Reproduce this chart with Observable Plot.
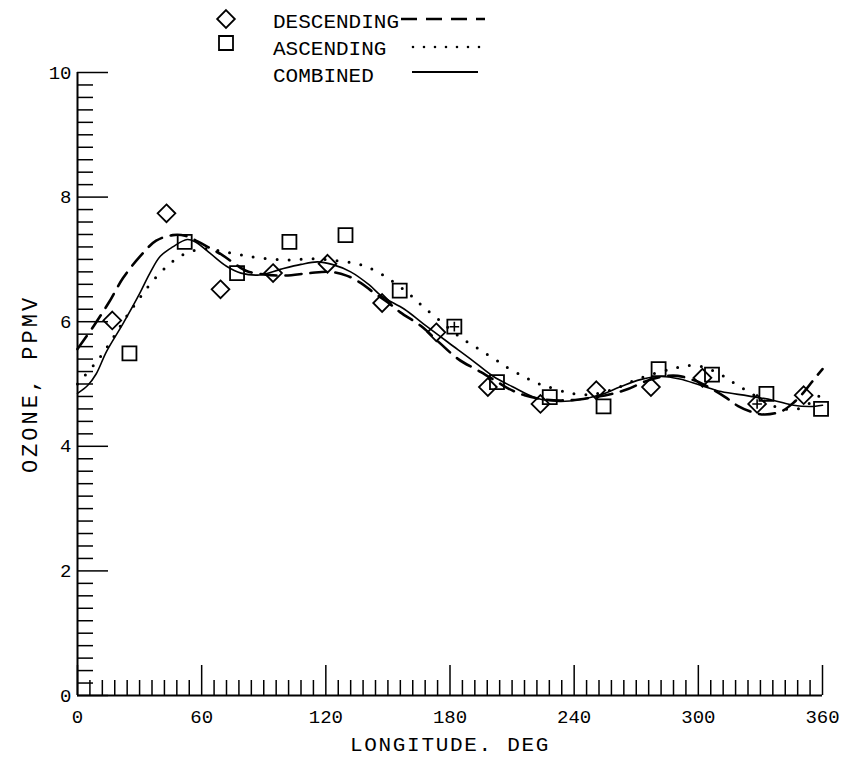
<!DOCTYPE html>
<html><head><meta charset="utf-8">
<script src="https://cdn.jsdelivr.net/npm/d3@7"></script>
<script src="https://cdn.jsdelivr.net/npm/@observablehq/plot@0.6"></script>
<style>
body{margin:0;background:#fff;}
#wrap{position:relative;width:841px;height:758px;}
#legend{position:absolute;left:0;top:0;}
</style></head><body><div id="wrap"><div id="chart"></div><svg id="legend" width="841" height="90"></svg></div>
<script>
// Measured points
const descLon   = [16.8, 43.0, 69.1, 94.5, 120.8, 147.2, 173.4, 198.3, 223.7, 250.7, 277.1, 302.0, 328.4, 350.9];
const descOzone = [6.02, 7.74, 6.52, 6.78, 6.93, 6.30, 5.83, 4.95, 4.68, 4.90, 4.95, 5.10, 4.68, 4.82];
const ascLon    = [25.1, 51.8, 77.1, 102.4, 129.5, 155.7, 182.1, 202.7, 228.2, 254.2, 280.8, 306.6, 332.9, 359.3];
const ascOzone  = [5.49, 7.28, 6.78, 7.28, 7.39, 6.50, 5.92, 5.03, 4.79, 4.64, 5.24, 5.15, 4.84, 4.60];
const plusLon   = [182.1, 328.4];
const plusOzone = [5.92, 4.68];
// Fitted curves
const descFitLon   = [0,8,15,22,30,38,46,52,58,64,70,76,82,90,100,112,122,130,137,143,150,156,166,175,184,195,203,208,216,226,238,250,258,266,275,283,290,298,306,313,319,326,332,340,346,351,356,360];
const descFitOzone = [5.56,5.94,6.30,6.70,7.04,7.30,7.39,7.38,7.29,7.18,7.07,6.93,6.81,6.76,6.74,6.78,6.80,6.74,6.62,6.47,6.31,6.15,5.93,5.66,5.40,5.19,5.03,4.93,4.82,4.75,4.74,4.79,4.84,4.92,5.05,5.12,5.13,5.06,4.93,4.79,4.65,4.55,4.51,4.56,4.70,4.87,5.08,5.24];
const ascFitLon    = [0,7,12,17,23,29,35,41,45,50,56,62,70,79,89,101,113,125,135,140,146,150,160,167,175,185,194,202,206,211,216,220,226,236,243,250,260,270,280,287,292,297,303,308,313,317,322,330,337,344,350,355,360];
const ascFitOzone  = [5.00,5.27,5.48,5.73,6.05,6.33,6.60,6.82,6.94,7.06,7.14,7.17,7.13,7.07,7.02,6.99,7.01,6.98,6.93,6.88,6.78,6.70,6.45,6.24,6.02,5.75,5.56,5.39,5.30,5.20,5.12,5.04,4.97,4.87,4.83,4.84,4.93,5.07,5.18,5.24,5.28,5.30,5.27,5.20,5.11,5.02,4.92,4.76,4.64,4.59,4.62,4.72,4.85];
const combFitLon   = [0,5,9,14,22,30,35,40,46,53,57,64,72,79,88,98,108,116,123,132,141,147,158,167,179,190,201,210,222,233,243,253,262,272,282,291,301,311,324,336,346,354,360];
const combFitOzone = [4.85,4.98,5.16,5.52,5.97,6.45,6.78,7.05,7.20,7.32,7.28,7.10,6.89,6.78,6.75,6.84,6.92,6.96,6.92,6.80,6.59,6.41,6.20,5.97,5.67,5.40,5.12,4.96,4.77,4.72,4.75,4.83,4.95,5.07,5.12,5.08,4.98,4.88,4.81,4.74,4.66,4.64,4.66];
// Axes
const xMajor = [0,60,120,180,240,300,360];
const xMinor = d3.range(0,361,6).filter(d => d % 60 !== 0);
const yMajor = [0,2,4,6,8,10];
const yMinor = d3.range(1,50).map(i => +(i*0.2).toFixed(1)).filter(d => Math.abs(d/2 - Math.round(d/2)) > 1e-6);
const xTitle = "LONGITUDE. DEG";
const yTitle = "OZONE, PPMV";
const legendLabels = ["DESCENDING","ASCENDING","COMBINED"];

const zip = (xs, ys) => xs.map((x,i) => ({x, y: ys[i]}));
const desc = zip(descLon, descOzone), asc = zip(ascLon, ascOzone), plus = zip(plusLon, plusOzone);
const descFit = zip(descFitLon, descFitOzone), ascFit = zip(ascFitLon, ascFitOzone), combFit = zip(combFitLon, combFitOzone);

const W = 841, H = 758, mL = 77, mR = 19, mT = 72, mB = 63;
const innerW = W - mL - mR, innerH = H - mT - mB;
const font = "'Liberation Mono', 'DejaVu Sans Mono', monospace";

const chart = Plot.plot({
  width: W, height: H, marginLeft: mL, marginRight: mR, marginTop: mT, marginBottom: mB,
  style: {fontFamily: font, background: "white", color: "black"},
  x: {domain: [0, 360]},
  y: {domain: [0, 10]},
  marks: [
    Plot.tickX(xMinor, {x: d => d, insetTop: innerH - 15, stroke: "black", strokeWidth: 1.5}),
    Plot.tickX(xMajor, {x: d => d, insetTop: innerH - 30, stroke: "black", strokeWidth: 1.5}),
    Plot.tickY(yMinor, {y: d => d, insetRight: innerW - 16, stroke: "black", strokeWidth: 1.5}),
    Plot.tickY(yMajor, {y: d => d, insetRight: innerW - 31, stroke: "black", strokeWidth: 1.5}),
    Plot.ruleX([0], {y1: 0, y2: 10, stroke: "black", strokeWidth: 2}),
    Plot.ruleY([0], {x1: 0, x2: 360, stroke: "black", strokeWidth: 2}),
    Plot.axisX(xMajor, {tickSize: 0, tickPadding: 14, fontSize: 19, label: null, tickFormat: d => String(d)}),
    Plot.axisY(yMajor, {tickSize: 0, tickPadding: 6, fontSize: 19, label: null, tickFormat: d => String(d)}),
    Plot.text([yTitle], {frameAnchor: "left", dx: -48, rotate: -90, fontSize: 22, text: d => d, textAnchor: "middle"}),
    Plot.text([xTitle], {frameAnchor: "bottom", dy: 49, fontSize: 21, text: d => d, lineAnchor: "middle"}),
    Plot.line(descFit, {x: "x", y: "y", curve: "catmull-rom", stroke: "black", strokeWidth: 2.6, strokeDasharray: "16,9"}),
    Plot.line(ascFit, {x: "x", y: "y", curve: "catmull-rom", stroke: "black", strokeWidth: 3, strokeDasharray: "0,12", strokeLinecap: "round"}),
    Plot.line(combFit, {x: "x", y: "y", curve: "catmull-rom", stroke: "black", strokeWidth: 1.6}),
    Plot.dot(desc, {x: "x", y: "y", symbol: "diamond2", r: 8, stroke: "black", strokeWidth: 1.8, fill: "none"}),
    Plot.dot(asc, {x: "x", y: "y", symbol: "square", r: 7.9, stroke: "black", strokeWidth: 1.8, fill: "none"}),
    Plot.dot(plus, {x: "x", y: "y", symbol: "plus", r: 3.2, stroke: "black", strokeWidth: 1.6})
  ]
});
document.getElementById("chart").appendChild(chart);
d3.select(chart).selectAll("text").filter(function(){ return this.textContent === xTitle; }).style("letter-spacing", "1.7px");
d3.select(chart).selectAll("text").filter(function(){ return this.textContent === yTitle; }).style("letter-spacing", "3px");

// Legend
const lg = d3.select("#legend").style("font-family", font);
lg.append("path").attr("transform", "translate(226,19)").attr("d", d3.symbol(d3.symbolDiamond2, 200)())
  .attr("fill", "none").attr("stroke", "black").attr("stroke-width", 1.8);
lg.append("path").attr("transform", "translate(226,43)").attr("d", d3.symbol(d3.symbolSquare, 196)())
  .attr("fill", "none").attr("stroke", "black").attr("stroke-width", 1.8);
const ly = [28, 55, 82];
legendLabels.forEach((t, i) => lg.append("text").attr("x", 273).attr("y", ly[i]).attr("font-size", 21).text(t));
lg.append("line").attr("x1", 401).attr("x2", 485).attr("y1", 19).attr("y2", 19)
  .attr("stroke", "black").attr("stroke-width", 2.6).attr("stroke-dasharray", "16,9");
lg.append("line").attr("x1", 413).attr("x2", 485).attr("y1", 47).attr("y2", 47)
  .attr("stroke", "black").attr("stroke-width", 2.6).attr("stroke-dasharray", "0,11").attr("stroke-linecap", "round");
lg.append("line").attr("x1", 412).attr("x2", 478).attr("y1", 72).attr("y2", 72)
  .attr("stroke", "black").attr("stroke-width", 1.8);
</script></body></html>
